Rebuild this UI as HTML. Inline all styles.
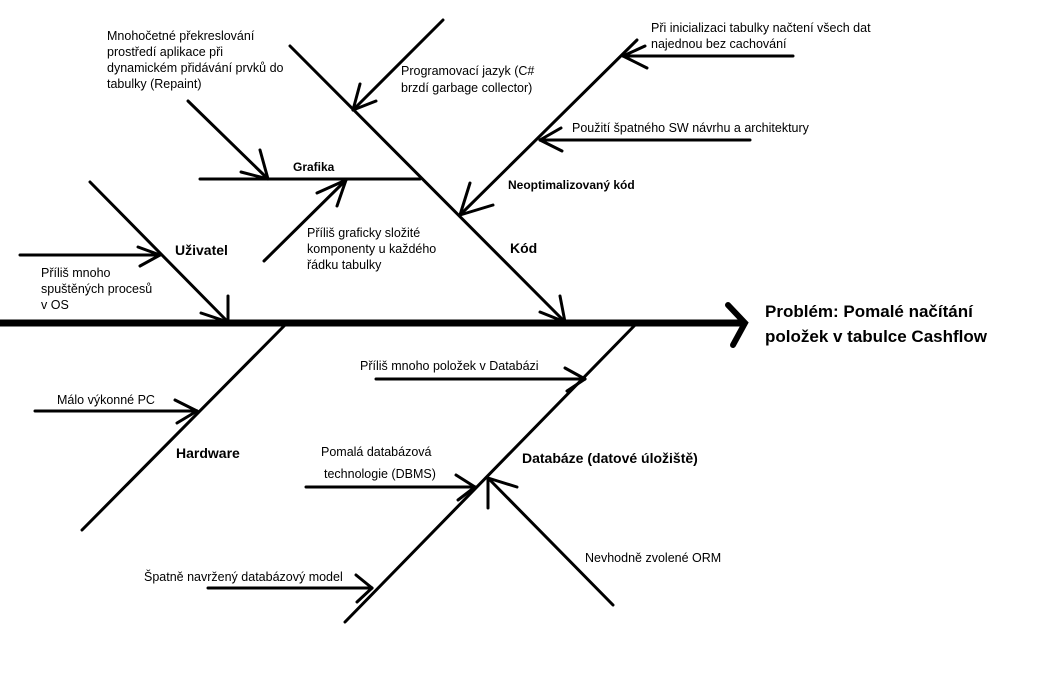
<!DOCTYPE html>
<html><head><meta charset="utf-8"><style>
html,body{margin:0;padding:0;background:#fff;}
svg{display:block;}
text{font-family:"Liberation Sans",sans-serif;font-size:12.5px;fill:#000;}
.b{font-weight:bold;font-size:14px;}
.s{font-weight:bold;font-size:12px;}
.t{font-weight:bold;font-size:17px;}
</style></head><body>
<svg width="1041" height="675" viewBox="0 0 1041 675">
<g stroke="#000" stroke-width="3" fill="none" stroke-linecap="round">
<line x1="0" y1="323" x2="742" y2="323" stroke-width="7"/>
<polyline points="728,305 745,323 733,345" stroke-width="6"/>
<!-- Uzivatel -->
<line x1="90" y1="182" x2="228" y2="322"/>
<line x1="228" y1="296" x2="228" y2="322"/><line x1="201" y1="313" x2="228" y2="322"/>
<line x1="20" y1="255" x2="160" y2="255"/>
<line x1="138" y1="247" x2="160" y2="255"/><line x1="140" y1="266" x2="160" y2="255"/>
<!-- Kod -->
<line x1="290" y1="46" x2="565" y2="322"/>
<line x1="560" y1="296" x2="565" y2="322"/><line x1="540" y1="312" x2="565" y2="322"/>
<line x1="200" y1="179" x2="420" y2="179"/>
<line x1="188" y1="101" x2="268" y2="179"/>
<line x1="260" y1="150" x2="268" y2="179"/><line x1="241" y1="172" x2="268" y2="179"/>
<line x1="264" y1="261" x2="346" y2="180"/>
<line x1="317" y1="193" x2="346" y2="180"/><line x1="337" y1="206" x2="346" y2="180"/>
<line x1="443" y1="20" x2="353" y2="110"/>
<line x1="360" y1="84" x2="353" y2="110"/><line x1="376" y1="101" x2="353" y2="110"/>
<!-- Neoptimalizovany -->
<line x1="637" y1="40" x2="460" y2="215"/>
<line x1="470" y1="183" x2="460" y2="215"/><line x1="493" y1="205" x2="460" y2="215"/>
<line x1="793" y1="56" x2="623" y2="56"/>
<line x1="645" y1="46" x2="623" y2="56"/><line x1="647" y1="68" x2="623" y2="56"/>
<line x1="750" y1="140" x2="540" y2="140"/>
<line x1="561" y1="128" x2="540" y2="140"/><line x1="562" y1="151" x2="540" y2="140"/>
<!-- Hardware -->
<line x1="287" y1="323" x2="82" y2="530"/>
<line x1="35" y1="411" x2="197" y2="411"/>
<line x1="175" y1="400" x2="197" y2="411"/><line x1="177" y1="423" x2="197" y2="411"/>
<!-- Databaze -->
<line x1="637" y1="323" x2="345" y2="622"/>
<line x1="376" y1="379" x2="585" y2="379"/>
<line x1="565" y1="368" x2="585" y2="379"/><line x1="567" y1="391" x2="585" y2="379"/>
<line x1="306" y1="487" x2="475" y2="487"/>
<line x1="456" y1="475" x2="475" y2="487"/><line x1="458" y1="500" x2="475" y2="487"/>
<line x1="613" y1="605" x2="488" y2="478"/>
<line x1="517" y1="487" x2="488" y2="478"/><line x1="488" y1="508" x2="488" y2="478"/>
<line x1="208" y1="588" x2="372" y2="588"/>
<line x1="356" y1="575" x2="372" y2="588"/><line x1="357" y1="602" x2="372" y2="588"/>
</g>
<text x="107" y="40">Mnohočetné překreslování</text>
<text x="107" y="56">prostředí aplikace při</text>
<text x="107" y="72">dynamickém přidávání prvků do</text>
<text x="107" y="88">tabulky (Repaint)</text>
<text x="401" y="75">Programovací jazyk (C#</text>
<text x="401" y="92">brzdí garbage collector)</text>
<text x="651" y="32">Při inicializaci tabulky načtení všech dat</text>
<text x="651" y="48">najednou bez cachování</text>
<text x="572" y="132">Použití špatného SW návrhu a architektury</text>
<text class="s" x="293" y="171">Grafika</text>
<text class="s" x="508" y="189">Neoptimalizovaný kód</text>
<text x="307" y="237">Příliš graficky složité</text>
<text x="307" y="253">komponenty u každého</text>
<text x="307" y="269">řádku tabulky</text>
<text class="b" x="175" y="255">Uživatel</text>
<text class="b" x="510" y="253">Kód</text>
<text x="41" y="277">Příliš mnoho</text>
<text x="41" y="293">spuštěných procesů</text>
<text x="41" y="309">v OS</text>
<text class="t" x="765" y="317">Problém: Pomalé načítání</text>
<text class="t" x="765" y="342">položek v tabulce Cashflow</text>
<text x="360" y="370">Příliš mnoho položek v Databázi</text>
<text x="57" y="404">Málo výkonné PC</text>
<text class="b" x="176" y="458">Hardware</text>
<text class="b" x="522" y="463">Databáze (datové úložiště)</text>
<text x="321" y="456">Pomalá databázová</text>
<text x="324" y="478">technologie (DBMS)</text>
<text x="585" y="562">Nevhodně zvolené ORM</text>
<text x="144" y="581">Špatně navržený databázový model</text>
</svg>
</body></html>
